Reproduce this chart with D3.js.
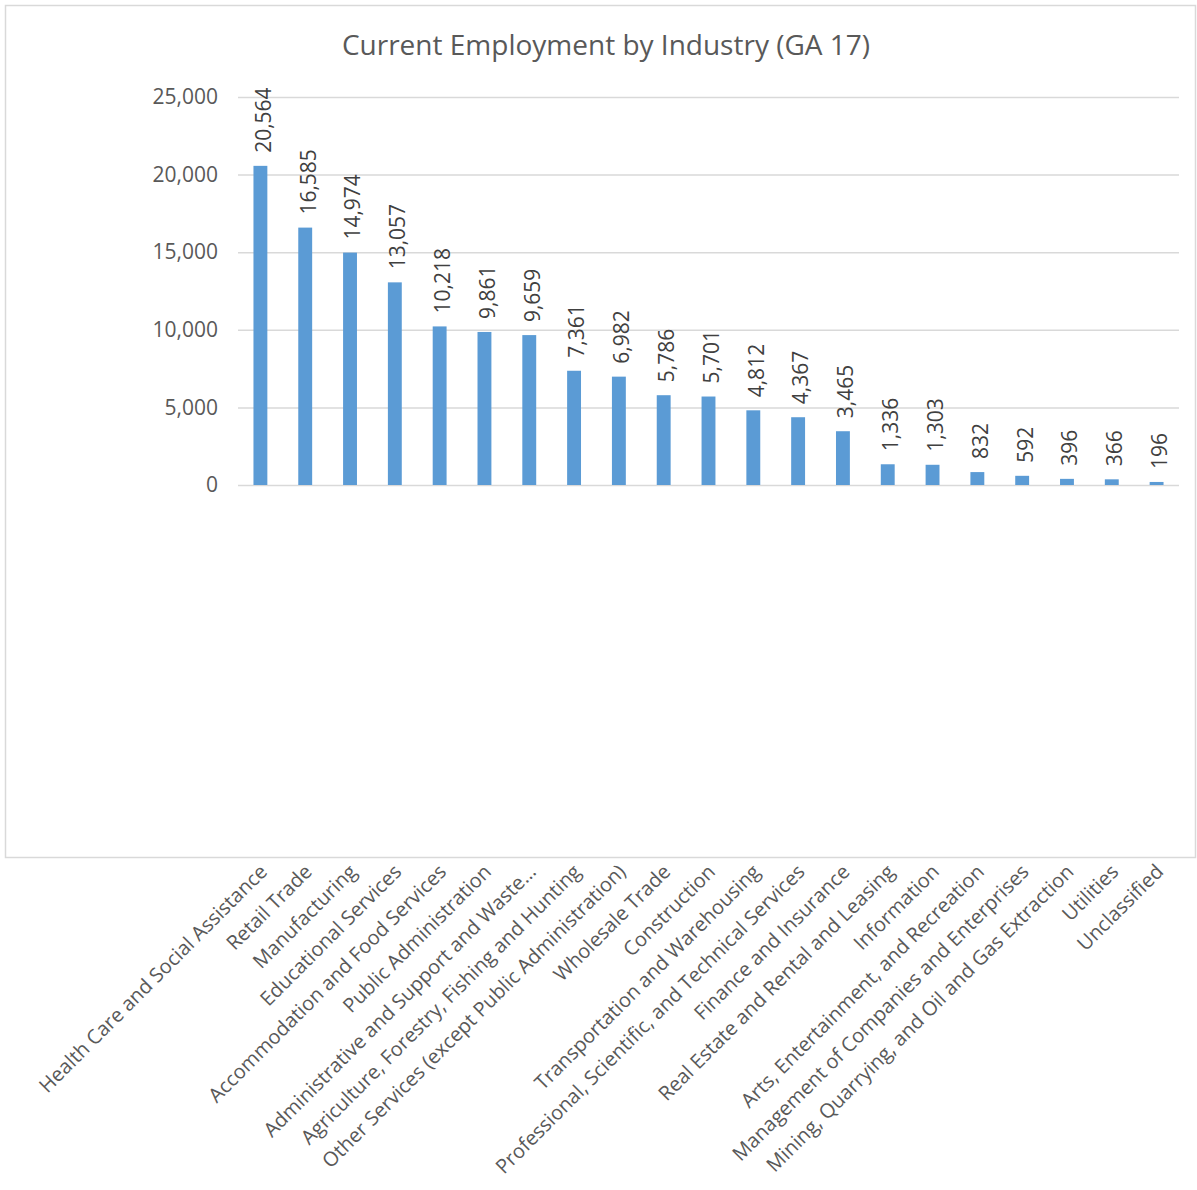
<!DOCTYPE html>
<html>
<head>
<meta charset="utf-8">
<script src="https://cdn.jsdelivr.net/npm/d3@7"></script>
<style>
  body { margin: 0; background: #fff; }
  text { font-family: "Open Sans", sans-serif; }
</style>
</head>
<body>
<div id="chart"></div>
<script>
// data
const industries = [
    "Health Care and Social Assistance",
    "Retail Trade",
    "Manufacturing",
    "Educational Services",
    "Accommodation and Food Services",
    "Public Administration",
    "Administrative and Support and Waste…",
    "Agriculture, Forestry, Fishing and Hunting",
    "Other Services (except Public Administration)",
    "Wholesale Trade",
    "Construction",
    "Transportation and Warehousing",
    "Professional, Scientific, and Technical Services",
    "Finance and Insurance",
    "Real Estate and Rental and Leasing",
    "Information",
    "Arts, Entertainment, and Recreation",
    "Management of Companies and Enterprises",
    "Mining, Quarrying, and Oil and Gas Extraction",
    "Utilities",
    "Unclassified"
];

const employment = [20564, 16585, 14974, 13057, 10218, 9861, 9659, 7361, 6982, 5786,
    5701, 4812, 4367, 3465, 1336, 1303, 832, 592, 396, 366, 196];

const yTicks = [0, 5000, 10000, 15000, 20000, 25000];

const title = "Current Employment by Industry (GA 17)";

const rows = industries.map((name, i) => ({ name: name, value: employment[i] }));

const width = 1197, height = 1190;
const plotLeft = 238, plotRight = 1179, plotTop = 97, plotBottom = 485;

const svg = d3.select("#chart")
    .append("svg")
    .attr("width", width)
    .attr("height", height);

// chart frame
svg.append("rect")
    .attr("x", 5.5)
    .attr("y", 5.5)
    .attr("width", 1190)
    .attr("height", 852)
    .attr("fill", "#fff")
    .attr("stroke", "#d9d9d9")
    .attr("stroke-width", 1.5);

svg.append("text")
    .attr("x", 606)
    .attr("y", 55)
    .attr("text-anchor", "middle")
    .attr("font-size", 28)
    .attr("fill", "#595959")
    .text(title);

const x = d3.scaleBand()
    .domain(industries)
    .range([plotLeft, plotRight])
    .paddingInner(0.69)
    .paddingOuter(0.345);

const y = d3.scaleLinear()
    .domain([0, 25000])
    .range([plotBottom, plotTop]);

// gridlines
svg.append("g")
    .selectAll("line")
    .data(yTicks)
    .enter()
    .append("line")
    .attr("x1", plotLeft)
    .attr("x2", plotRight)
    .attr("y1", d => y(d) + 0.5)
    .attr("y2", d => y(d) + 0.5)
    .attr("stroke", "#d9d9d9")
    .attr("stroke-width", 1.5);

// y axis labels
const yAxis = svg.append("g")
    .attr("transform", "translate(" + (plotLeft - 20) + ",0)")
    .call(d3.axisLeft(y).tickValues(yTicks).tickSize(0).tickFormat(d3.format(",")));
yAxis.select(".domain").remove();
yAxis.selectAll("text")
    .attr("font-family", "Open Sans, sans-serif")
    .attr("font-size", 21)
    .attr("fill", "#595959")
    .attr("x", 0);

// bars
svg.append("g")
    .selectAll("rect")
    .data(rows)
    .enter()
    .append("rect")
    .attr("x", d => x(d.name))
    .attr("width", x.bandwidth())
    .attr("y", d => y(d.value))
    .attr("height", d => y(0) - y(d.value))
    .attr("fill", "#5b9bd5");

// value labels
svg.append("g")
    .selectAll("text")
    .data(rows)
    .enter()
    .append("text")
    .attr("transform", d => "translate(" + (x(d.name) + x.bandwidth() / 2 + 3) + "," + (y(d.value) - 13) + ") rotate(-90)")
    .attr("dy", "0.35em")
    .attr("font-size", 21)
    .attr("fill", "#404040")
    .text(d => d3.format(",")(d.value));

// category labels
svg.append("g")
    .selectAll("text")
    .data(rows)
    .enter()
    .append("text")
    .attr("transform", d => "translate(" + (x(d.name) + x.bandwidth() / 2 + 3) + ",868) rotate(-45)")
    .attr("text-anchor", "end")
    .attr("dy", "0.35em")
    .attr("font-size", 20)
    .attr("fill", "#595959")
    .text(d => d.name);
</script>
</body>
</html>
